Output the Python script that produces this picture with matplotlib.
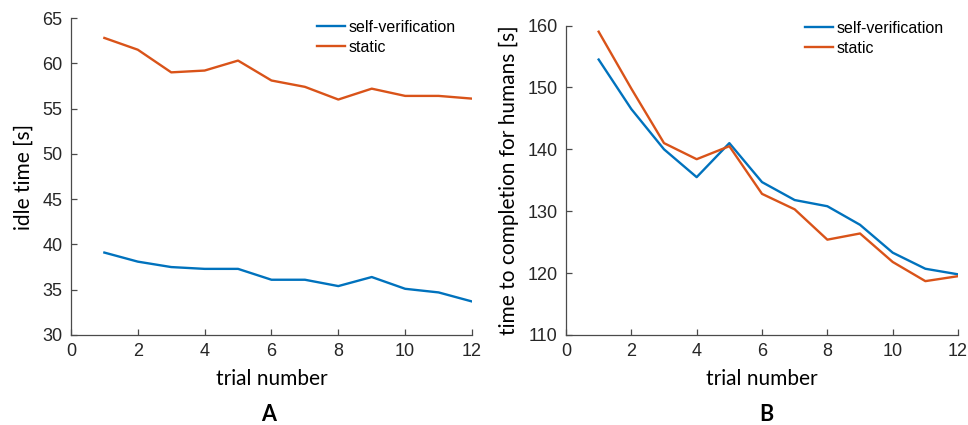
import matplotlib
matplotlib.use("Agg")
import matplotlib.pyplot as plt

plt.rcParams['font.family'] = ['Liberation Sans', 'DejaVu Sans']

trials = list(range(1, 13))
idle_self = [39.1, 38.1, 37.5, 37.3, 37.3, 36.1, 36.1, 35.4, 36.4, 35.1, 34.7, 33.7]
idle_static = [62.8, 61.5, 59.0, 59.2, 60.3, 58.1, 57.4, 56.0, 57.2, 56.4, 56.4, 56.1]
comp_self = [154.5, 146.5, 140.0, 135.5, 141.0, 134.7, 131.8, 130.8, 127.8, 123.3, 120.7, 119.8]
comp_static = [159.0, 149.8, 141.0, 138.4, 140.5, 132.8, 130.3, 125.4, 126.4, 121.8, 118.7, 119.5]
labels = ['self-verification', 'static']

blue = '#0072BD'
orange = '#D95319'
axcol = '#262626'
labfont = ['Lato', 'DejaVu Sans']

fig = plt.figure(figsize=(9.68, 4.25), dpi=100)
axA = fig.add_axes([0.0733, 0.2118, 0.4143, 0.7458])
axB = fig.add_axes([0.5847, 0.2118, 0.4050, 0.7282])

def style(ax, ylim, yticks, ylabel, legx, legy):
    ax.set_xlim(0, 12)
    ax.set_xticks(range(0, 13, 2))
    ax.set_ylim(*ylim)
    ax.set_yticks(yticks)
    for s in ['top', 'right']:
        ax.spines[s].set_visible(False)
    for s in ['left', 'bottom']:
        ax.spines[s].set_color('#4a4a4a')
        ax.spines[s].set_linewidth(0.9)
    ax.tick_params(direction='in', length=4, width=0.9, colors='#4a4a4a', labelsize=13, labelcolor=axcol, pad=6)
    ax.set_xlabel('trial number', fontsize=15, color='black', family=labfont, labelpad=6)
    ax.set_ylabel(ylabel, fontsize=15, color='black', family=labfont, labelpad=6)
    ax.legend(labels, loc='upper right', frameon=False, fontsize=11.5, handlelength=1.8,
              handletextpad=0.2, labelspacing=0.3, borderaxespad=0.0, bbox_to_anchor=(legx, legy))

axA.plot(trials, idle_self, color=blue, lw=1.7)
axA.plot(trials, idle_static, color=orange, lw=1.7)
style(axA, (30, 65), range(30, 66, 5), 'idle time [s]', 0.975, 1.014)

axB.plot(trials, comp_self, color=blue, lw=1.7)
axB.plot(trials, comp_static, color=orange, lw=1.7)
style(axB, (110, 160), range(110, 161, 10), 'time to completion for humans [s]', 0.98, 1.036)

fig.text(0.277, 0.0, 'A', fontsize=15.5, fontweight='bold', ha='center', va='bottom', family=labfont)
fig.text(0.792, 0.0, 'B', fontsize=15.5, fontweight='bold', ha='center', va='bottom', family=labfont)

fig.savefig('out.png', dpi=100)
